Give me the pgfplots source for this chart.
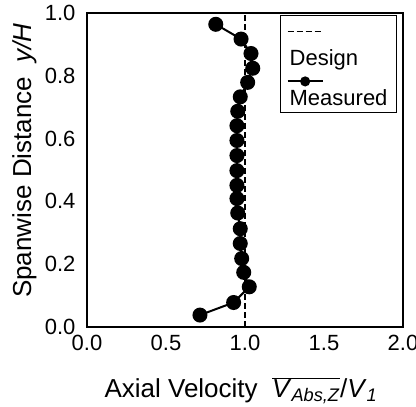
\documentclass[border=0pt]{standalone}
\usepackage{fontspec}
\setmainfont{Liberation Sans}
\usepackage{pgfplots}
\pgfplotsset{compat=1.18}
\pgfplotsset{
  designleg/.style={legend image code/.code={\path[draw=none] (0pt,0pt) -- (0pt,40pt);
    \draw[##1,overlay] (0pt,27pt) -- (35pt,27pt);}},
  measleg/.style={legend image code/.code={\path[draw=none] (0pt,0pt) -- (0pt,20pt);
    \draw[##1,overlay,mark repeat=2,mark phase=2,mark size=4pt] plot coordinates {(0pt,17pt) (17.5pt,17pt) (35pt,17pt)};}},
}

\begin{document}
\begin{tikzpicture}
\begin{axis}[
  at={(87pt,80pt)}, anchor=south west,
  scale only axis, width=316pt, height=314pt,
  xmin=0, xmax=2, ymin=0, ymax=1,
  xtick={0,0.5,...,2}, ytick={0,0.2,...,1},
  major tick length=0pt,
  /pgf/number format/.cd, fixed, fixed zerofill, precision=1, assume math mode=true,
  /pgfplots/.cd,
  tick label style={font=\fontsize{22pt}{24pt}\selectfont},
  xticklabel style={yshift=-5pt},
  yticklabel style={xshift=-8pt},
  axis line style={line width=1.6pt},
  xlabel={Axial Velocity\ \ $\overline{\mbox{\textit{V}\textsubscript{\textit{Abs,Z}}}}$/\textit{V}\textsubscript{\textit{1}}},
  ylabel={Spanwise Distance\ \ \textit{y/H}},
  label style={font=\fontsize{26pt}{28pt}\selectfont},
  xlabel style={at={(axis description cs:0.487,-0.224)}, anchor=base},
  ylabel style={at={(axis description cs:-0.177,0.53)}, anchor=base, rotate=0},
  legend style={at={(0.981,0.993)}, anchor=north east, draw=black, line width=1pt,
    inner xsep=7pt, inner ysep=3pt, row sep=9pt,
    font=\fontsize{22pt}{24pt}\selectfont, cells={anchor=west}},
]
\addplot[black, line width=1.2pt, dash pattern=on 6pt off 3pt, designleg]
  coordinates {(1,0) (1,1)};
\addlegendentry{Design}
\addplot[black, line width=2pt, mark=*, mark size=6.5pt, measleg]
  coordinates {
  (0.815,0.964) (0.975,0.917) (1.038,0.871) (1.049,0.824) (1.017,0.779)
  (0.970,0.733) (0.954,0.687) (0.949,0.641) (0.949,0.594) (0.949,0.546)
  (0.949,0.498) (0.949,0.451) (0.949,0.409) (0.954,0.363) (0.970,0.313)
  (0.970,0.266) (0.979,0.218) (0.992,0.174) (1.027,0.128) (0.928,0.078)
  (0.715,0.038)
  };
\addlegendentry{Measured\rule[-6pt]{0pt}{6pt}}
\end{axis}
\pgfresetboundingbox
\path[use as bounding box] (0pt,0pt) rectangle (416pt,407pt);
\end{tikzpicture}
\end{document}
